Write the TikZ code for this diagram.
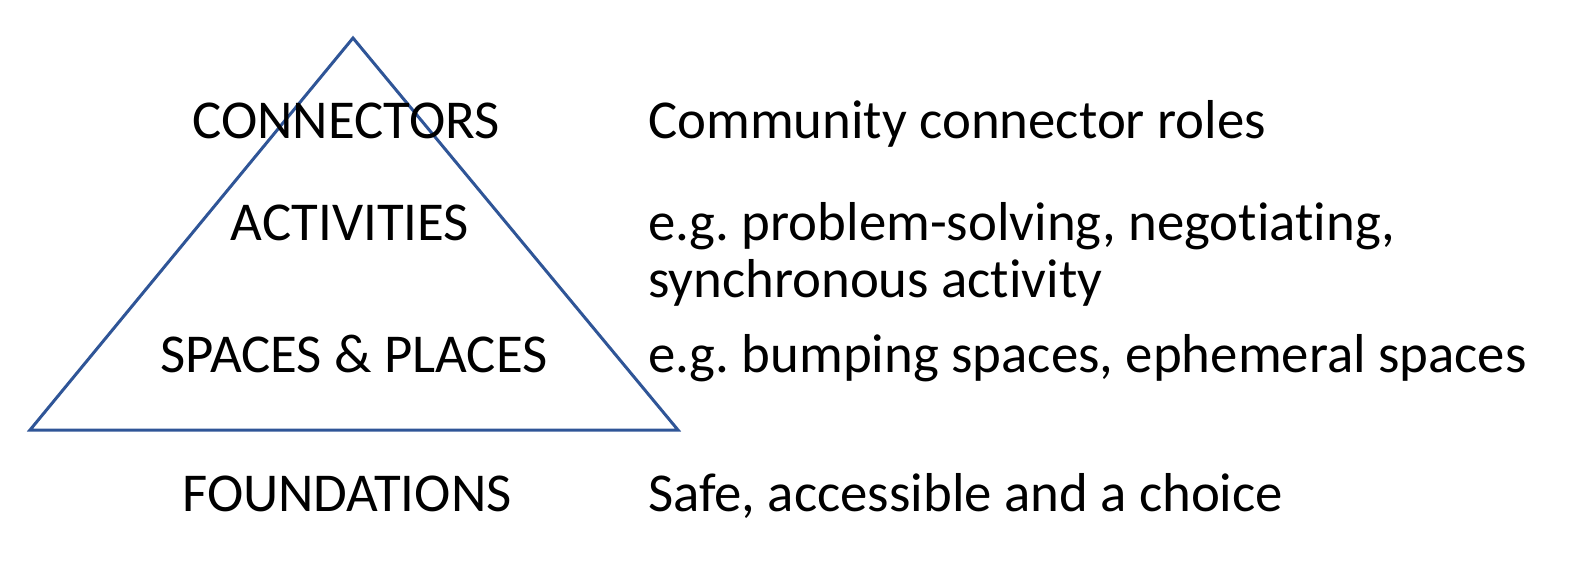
\documentclass[tikz,border=0pt]{standalone}
\usepackage{fontspec}
\setmainfont{Carlito}[Ligatures=CommonOff]
\frenchspacing
\definecolor{pyramidblue}{RGB}{47,85,151}

\begin{document}
\begin{tikzpicture}[x=1pt,y=-1pt,
    level/.style={anchor=base,inner sep=0pt,font=\fontsize{54.8}{60}\selectfont},
    note/.style={anchor=base west,inner sep=0pt,font=\fontsize{54.8}{60}\selectfont}]
            \useasboundingbox (0,0) rectangle (1591,563);

            \coordinate (P) at (353,38);
            \coordinate (L) at (30,430);
            \coordinate (R) at (678,430);
            \draw[pyramidblue,line width=3pt,line join=miter] (P) -- (L) -- (R) -- cycle;

            \node[level] (C) at (346,138) {CONNECTORS};
            \node[level] (A) at (350,240) {ACTIVITIES};
            \node[level] (S) at (354,372) {SPACES \& PLACES};
            \node[level] (F) at (347,511) {FOUNDATIONS};

            \node[note] (c) at (648,138) {Community connector roles};
            \node[note] (a) at (648,240) {e.g. problem-solving, negotiating,};
            \node[note] (a2) at (648,297) {synchronous activity};
            \node[note] (s) at (648,372) {e.g. bumping spaces, ephemeral spaces};
            \node[note] (f) at (648,511) {Safe, accessible and a choice};

        \end{tikzpicture}
\end{document}
